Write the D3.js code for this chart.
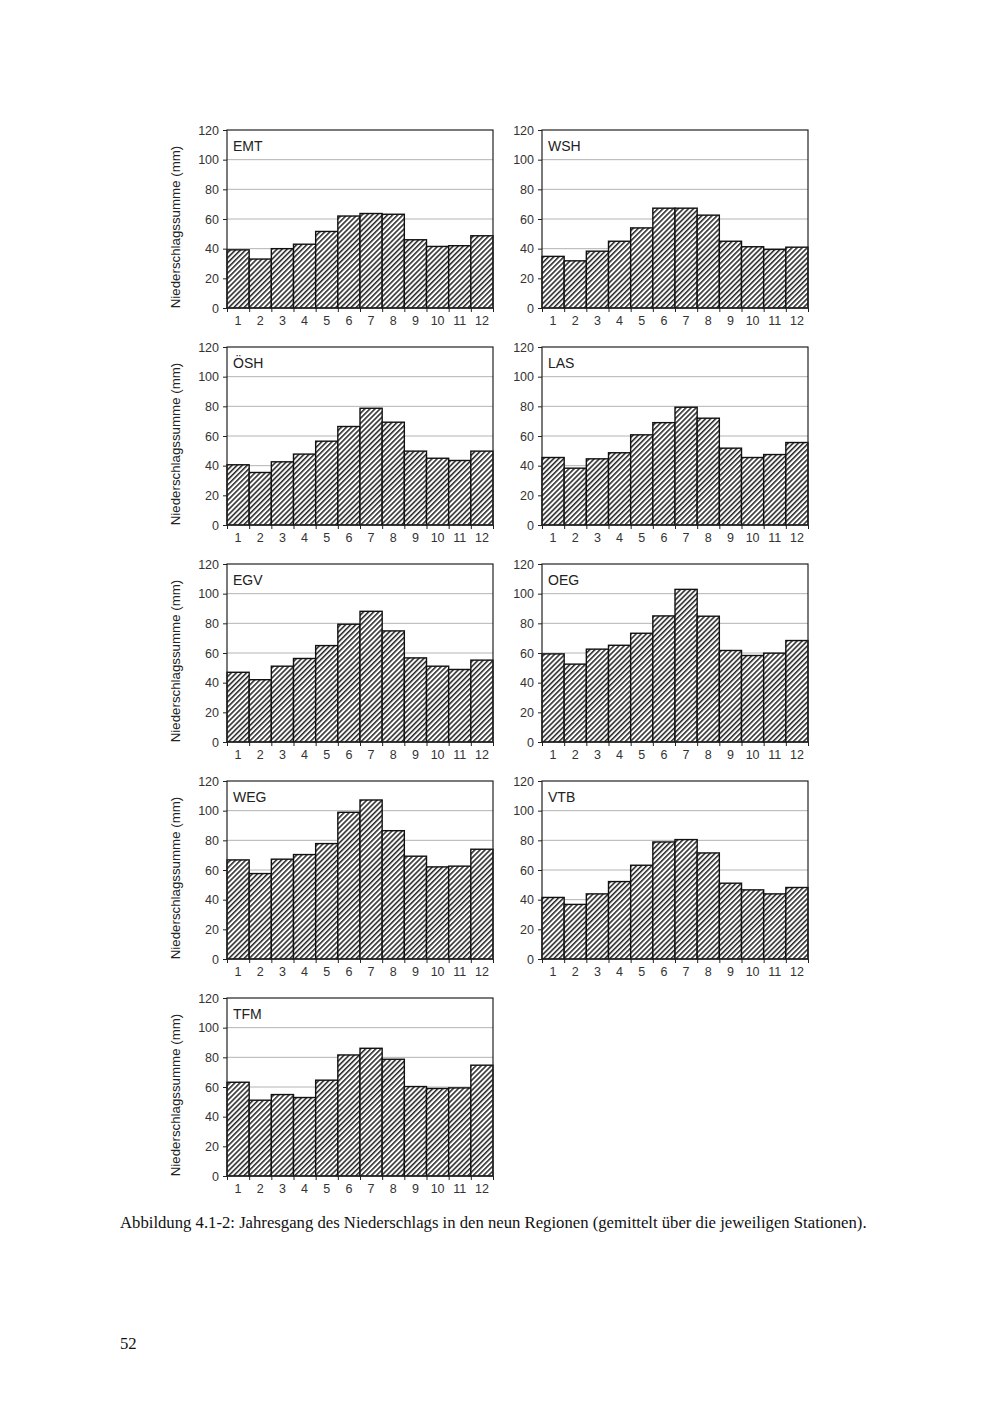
<!DOCTYPE html>
<html>

<head>
    <meta charset="UTF-8">
    <style>
        body { margin: 0; background: #fff; }
        svg { display: block; }
    </style>
</head>

<body>
    <svg></svg>
    <script src="https://d3js.org/d3.v7.min.js"></script>

    <script>

        let width = 1000, height = 1413;

        let svg = d3.select("svg")
            .attr("width", width)
            .attr("height", height)

        // monthly precipitation (mm) per region
        const months = [1, 2, 3, 4, 5, 6, 7, 8, 9, 10, 11, 12];
        const yTicks = [0, 20, 40, 60, 80, 100, 120];

        const emt = [39.2, 33, 40, 43, 51.6, 62, 63.7, 63.2, 46, 41.5, 42, 48.7];
        const wsh = [34.8, 31.8, 38.3, 45, 54, 67.3, 67.3, 62.6, 45, 41.3, 39.5, 41];
        const osh = [40.6, 35.4, 42.6, 47.8, 56.5, 66.4, 78.7, 69.3, 49.8, 45, 43.5, 49.8];
        const las = [45.5, 38.3, 44.6, 48.7, 60.8, 69, 79.4, 72, 51.8, 45.5, 47.5, 55.6];
        const egv = [47, 42, 51.1, 56.3, 65, 79.4, 88.1, 74.9, 56.7, 51.1, 48.9, 55.2];
        const oeg = [59.4, 52.5, 62.6, 65.2, 73.3, 85, 102.9, 84.8, 61.7, 58.3, 59.9, 68.4];
        const weg = [66.8, 57.6, 67.3, 70.4, 77.8, 98.9, 107.2, 86.5, 69.3, 62.1, 62.6, 74];
        const vtb = [41.5, 36.8, 43.9, 52.2, 63.2, 78.9, 80.5, 71.5, 51.1, 46.6, 43.9, 48.2];
        const tfm = [63.2, 51.1, 54.9, 52.9, 64.6, 81.6, 86.1, 78.7, 60.3, 59, 59.4, 74.7];

        const regions = ["EMT", "WSH", "ÖSH", "LAS", "EGV", "OEG", "WEG", "VTB", "TFM"];
        const series = [emt, wsh, osh, las, egv, oeg, weg, vtb, tfm];

        // layout of the 2-column grid
        const colX = [227, 542], rowY = [130, 347, 564, 781, 998];
        const pw = 266, ph = 178;

        // diagonal hatch
        const hp = 3.6;
        svg.append("defs").append("pattern")
            .attr("id", "hatch")
            .attr("patternUnits", "userSpaceOnUse")
            .attr("width", hp)
            .attr("height", hp)
            .attr("patternTransform", "rotate(45)")
            .call(p => {
                p.append("rect").attr("width", hp).attr("height", hp).attr("fill", "#fff")
                p.append("line")
                    .attr("x1", 0.8).attr("y1", 0).attr("x2", 0.8).attr("y2", hp)
                    .attr("stroke", "#111").attr("stroke-width", 1.4)
            });

        let x = d3.scaleBand().domain(months).range([0, pw]).padding(0);
        let xEdge = d3.scaleLinear().domain([0, 12]).range([0, pw]);
        let y = d3.scaleLinear().domain([0, 120]).range([ph, 0]);

        regions.forEach((name, i) => {
            let col = i % 2, row = Math.floor(i / 2);
            let g = svg.append("g")
                .attr("transform", "translate(" + colX[col] + "," + rowY[row] + ")")

            // grid
            g.append("g")
                .selectAll("line")
                .data(yTicks.slice(1, -1))
                .enter()
                .append("line")
                .attr("x1", 0).attr("x2", pw)
                .attr("y1", d => y(d)).attr("y2", d => y(d))
                .style("stroke", "#b4b4b4")
                .style("stroke-width", 1)

            // bars
            g.append("g")
                .selectAll("rect")
                .data(series[i])
                .enter()
                .append("rect")
                .attr("x", (d, j) => x(months[j]))
                .attr("width", x.bandwidth())
                .attr("y", d => y(d))
                .attr("height", d => ph - y(d))
                .style("fill", "url(#hatch)")
                .style("stroke", "#111")
                .style("stroke-width", 1.4)

            // frame
            g.append("rect")
                .attr("width", pw).attr("height", ph)
                .style("fill", "none")
                .style("stroke", "#222")
                .style("stroke-width", 1.2)

            // y axis
            let ya = g.append("g")
                .call(d3.axisLeft(y).tickValues(yTicks).tickSize(4).tickPadding(4))
            ya.select(".domain").remove()
            ya.selectAll("line").style("stroke", "#222")
            ya.selectAll("text")
                .style("font-family", "'Liberation Sans', Arial, sans-serif")
                .style("font-size", "12.5px")
                .style("fill", "#333")

            // x axis: ticks at band edges, labels at centres
            let xt = g.append("g")
                .attr("transform", "translate(0," + ph + ")")
                .call(d3.axisBottom(xEdge).tickValues(d3.range(0, 13)).tickSize(4).tickFormat(""))
            xt.select(".domain").remove()
            xt.selectAll("line").style("stroke", "#222")

            let xa = g.append("g")
                .attr("transform", "translate(0," + ph + ")")
                .call(d3.axisBottom(x).tickSize(0).tickPadding(8))
            xa.select(".domain").remove()
            xa.selectAll("text")
                .style("font-family", "'Liberation Sans', Arial, sans-serif")
                .style("font-size", "12.5px")
                .style("fill", "#333")

            // region label
            g.append("text")
                .attr("x", 6).attr("y", 21)
                .text(name)
                .style("font-family", "'Liberation Sans', Arial, sans-serif")
                .style("font-size", "14px")
                .style("fill", "#222")

            // y title, left column only
            if (col === 0) {
                g.append("text")
                    .attr("transform", "translate(-47," + (ph / 2 + 8) + ") rotate(-90)")
                    .attr("text-anchor", "middle")
                    .text("Niederschlagssumme (mm)")
                    .style("font-family", "'Liberation Sans', Arial, sans-serif")
                    .style("font-size", "13.3px")
                    .style("fill", "#222")
            }
        });

        // caption and page number
        svg.append("text")
            .attr("x", 120).attr("y", 1228)
            .text("Abbildung 4.1-2: Jahresgang des Niederschlags in den neun Regionen (gemittelt über die jeweiligen Stationen).")
            .style("font-family", "'Liberation Serif', 'Times New Roman', serif")
            .style("font-size", "16.7px")
            .style("fill", "#111")

        svg.append("text")
            .attr("x", 120).attr("y", 1349)
            .text("52")
            .style("font-family", "'Liberation Serif', 'Times New Roman', serif")
            .style("font-size", "16.7px")
            .style("fill", "#111")

    </script>

</body>

</html>
